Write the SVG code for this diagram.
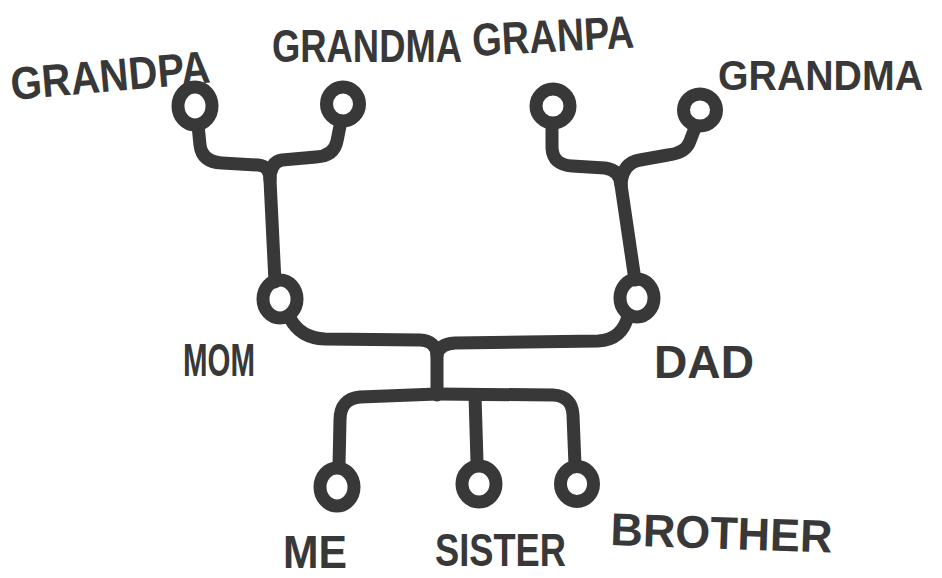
<svg xmlns="http://www.w3.org/2000/svg" width="942" height="578" viewBox="0 0 942 578">
<style>
.bg{fill:#fff}
.ring{fill:none;stroke:#383838;stroke-width:13}
.wire{fill:none;stroke:#383838;stroke-width:13;stroke-linecap:round;stroke-linejoin:round}
.lbl{font-family:"Liberation Sans","DejaVu Sans",sans-serif;font-weight:bold;font-size:46px;fill:#383838}
</style>
<rect class="bg" x="0" y="0" width="942" height="578"/>
<g id="connectors">
<path class="wire" d="M198,125 L200,145 Q202,162 222,163 L258,165 Q270,166 270,180 L275,282"/>
<path class="wire" d="M341,121 L337,141 Q334,156 316,157 L282,160 Q270,162 270,180"/>
<path class="wire" d="M552,126 L552,148 Q553,165 572,166 L605,168 Q620,170 621,185 L635,280"/>
<path class="wire" d="M695,128 L690,141 Q686,153 668,155 L640,160 Q622,163 621,185"/>
<path class="wire" d="M290,318 Q300,338 325,339 L420,340 Q436,341 437,355 L437,395"/>
<path class="wire" d="M628,316 Q622,340 598,341 L455,343 Q439,344 437,355"/>
<path class="wire" d="M437,394 L360,397 Q340,399 340,420 L339,466"/>
<path class="wire" d="M437,394 L553,395 Q572,396 573,415 L575,465"/>
<path class="wire" d="M475,395 L477,462"/>
</g>
<g id="grandpa-mom-side">
<ellipse class="ring" cx="195" cy="106" rx="17" ry="19"/>
<text class="lbl" x="12" y="100" textLength="200" lengthAdjust="spacingAndGlyphs" transform="rotate(-5 12 100)">GRANDPA</text>
</g>
<g id="grandma-mom-side">
<ellipse class="ring" cx="343" cy="104" rx="16.5" ry="17"/>
<text class="lbl" x="272" y="62" textLength="190" lengthAdjust="spacingAndGlyphs">GRANDMA</text>
</g>
<g id="granpa-dad-side">
<ellipse class="ring" cx="553" cy="106" rx="17" ry="17"/>
<text class="lbl" x="473" y="56" textLength="162" lengthAdjust="spacingAndGlyphs" transform="rotate(-3 473 56)">GRANPA</text>
</g>
<g id="grandma-dad-side">
<ellipse class="ring" cx="700" cy="110" rx="16.5" ry="16"/>
<text class="lbl" x="718" y="90" font-size="42" textLength="205" lengthAdjust="spacingAndGlyphs" style="font-size:42px">GRANDMA</text>
</g>
<g id="mom">
<ellipse class="ring" cx="280" cy="299" rx="17" ry="19"/>
<text class="lbl" x="183" y="376" textLength="72" lengthAdjust="spacingAndGlyphs">MOM</text>
</g>
<g id="dad">
<ellipse class="ring" cx="637" cy="298" rx="17" ry="19"/>
<text class="lbl" x="654" y="378" textLength="100" lengthAdjust="spacingAndGlyphs">DAD</text>
</g>
<g id="me">
<ellipse class="ring" cx="337" cy="487" rx="17" ry="19"/>
<text class="lbl" x="283" y="568" textLength="64" lengthAdjust="spacingAndGlyphs">ME</text>
</g>
<g id="sister">
<ellipse class="ring" cx="479" cy="484" rx="17" ry="18"/>
<text class="lbl" x="435" y="566" textLength="131" lengthAdjust="spacingAndGlyphs">SISTER</text>
</g>
<g id="brother">
<ellipse class="ring" cx="577" cy="484" rx="16.5" ry="17.5"/>
<text class="lbl" x="610" y="545" textLength="222" lengthAdjust="spacingAndGlyphs" transform="rotate(2 610 545)">BROTHER</text>
</g>
</svg>
